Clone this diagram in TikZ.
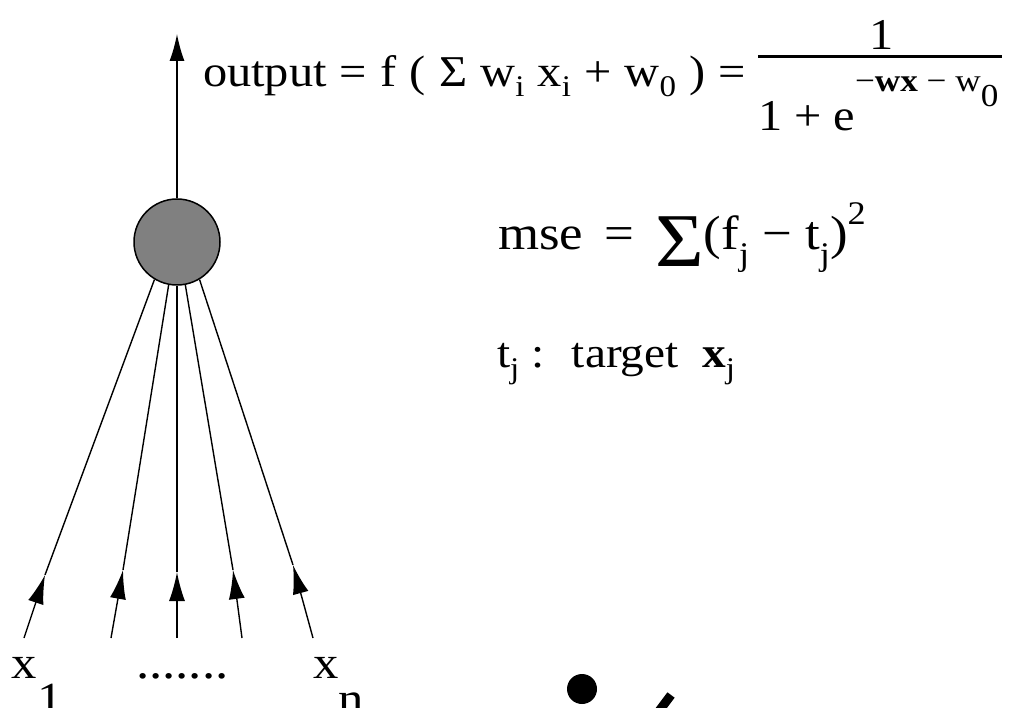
\documentclass[tikz,border=0pt]{standalone}
\usepackage{fontspec}
\setmainfont[FakeStretch=1.1]{Liberation Serif}
\usetikzlibrary{arrows.meta}
\newcommand\lowr[2]{\raisebox{-#1}{#2}}
\newcommand\fs[1]{\fontsize{#1}{#1}\selectfont}
\begin{document}
\begin{tikzpicture}[x=1pt,y=-1pt,
  txt/.style={inner sep=0pt,outer sep=0pt,anchor=base west},
  wire/.style={line width=1.4pt},
  inarrow/.style={line width=1.4pt,-{Latex[length=29pt,width=16pt]}}]
\useasboundingbox (0,0) rectangle (1009,708);
\clip (0,0) rectangle (1009,708);
% neuron
\node[circle,draw,line width=1.5pt,fill={rgb,255:red,128;green,128;blue,128},minimum size=86pt,inner sep=0pt] (n) at (177,242) {};
\coordinate (top) at (177,34);
\draw[line width=1.4pt,-{Latex[length=27pt,width=15pt]}] (n.north) -- (top);
% inputs
\coordinate (b1) at (24,638);  \coordinate (m1) at (45,575);
\coordinate (b2) at (111,638); \coordinate (m2) at (123,570);
\coordinate (b3) at (177,638); \coordinate (m3) at (177,572);
\coordinate (b4) at (242,638); \coordinate (m4) at (233,570);
\coordinate (b5) at (313,638); \coordinate (m5) at (293,565);
\foreach \i/\a in {1/-121,2/-101,3/-90,4/-79,5/-59}{
  \draw[inarrow] (b\i) -- (m\i);
  \draw[wire] (m\i) -- (n.\a);
}
% formulas
\node[txt] (out) at (203,87) {\fs{44}\spaceskip=0.3em output = f ( Σ w\lowr{10pt}{\fs{30}i} x\lowr{10pt}{\fs{30}i} + w\lowr{10pt}{\fs{30}0} ) =};
\coordinate (barl) at (758,57); \coordinate (barr) at (1002,57);
\draw[line width=3pt] (barl) -- (barr);
\node[inner sep=0pt,anchor=base] (num) at (882,50) {\fs{44}1};
\node[txt] (den) at (758,131) {\fs{44}1 + e};
\node[txt] (sup) at (855,92) {\fs{32}−\textbf{wx} − w\lowr{15pt}{0}};
\node[txt] (mse) at (498,250) {\fs{48}mse \,=\, \lowr{17pt}{\fs{76}Σ}(f\lowr{16pt}{\fs{33}j} − t\lowr{16pt}{\fs{33}j})\raisebox{25pt}{\fs{33}2}};
\node[txt] (tj) at (497,368) {\fs{43}t\lowr{10pt}{\fs{30}j} : \ target \ \textbf{x}\lowr{10pt}{\fs{30}j}};
% labels
\node[txt] (x1) at (12,678) {\fs{46}x\lowr{36pt}{1}};
\node[txt] (dots) at (136,678) {\fs{48}.......};
\node[txt] (xn) at (313,678) {\fs{46}x\lowr{36pt}{n}};
% bottom marks
\node[circle,fill,inner sep=0pt,minimum size=30pt] (dot) at (582,689) {};
\coordinate (s1) at (653,719); \coordinate (s2) at (671,695);
\draw[line width=9pt] (s1) -- (s2);
\end{tikzpicture}
\end{document}
